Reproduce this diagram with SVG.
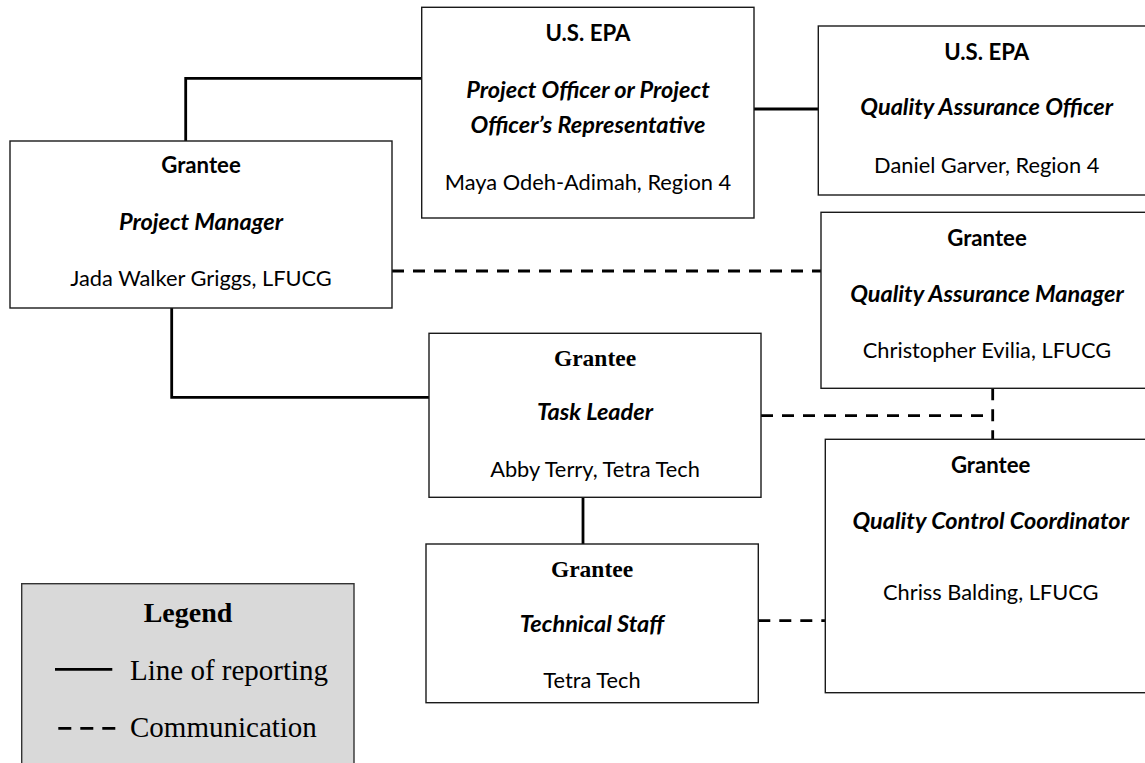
<svg xmlns="http://www.w3.org/2000/svg" width="1145" height="763" viewBox="0 0 1145 763">
<style>
.box{fill:#fff;stroke:#1a1a1a;stroke-width:1.4}
.t{font-family:Lato,"Open Sans","Liberation Sans",sans-serif;font-size:21.8px;fill:#000;text-anchor:middle}
.b{font-weight:bold;font-size:22.2px}
.bi{font-weight:bold;font-style:italic;font-size:23.5px}
.tb{font-family:"Liberation Serif","Times New Roman",serif;font-weight:bold;font-size:23.5px;fill:#000;text-anchor:middle}
.solid{fill:none;stroke:#000;stroke-width:2.8}
.dash{fill:none;stroke:#000;stroke-width:2.8;stroke-dasharray:12 9}
.lt{font-family:"Liberation Serif","Times New Roman",serif;font-size:29px;fill:#000}
</style>
<rect width="1145" height="763" fill="#fff"/>
<g id="connectors">
<polyline class="solid" points="185.7,141 185.7,78.3 421.7,78.3"/>
<line class="solid" x1="754" y1="109" x2="818.3" y2="109"/>
<line class="dash" x1="392" y1="271" x2="821" y2="271"/>
<polyline class="solid" points="171.7,308 171.7,397.3 429,397.3"/>
<line class="dash" x1="761" y1="415.7" x2="992.7" y2="415.7"/>
<line class="dash" x1="992.7" y1="388.3" x2="992.7" y2="439.3"/>
<line class="solid" x1="583" y1="497.3" x2="583" y2="544"/>
<line class="dash" x1="758.3" y1="620.7" x2="825.3" y2="620.7"/>
</g>
<g id="project-manager">
<rect class="box" x="10" y="141" width="382" height="167"/>
<text class="t b" x="201" y="173">Grantee</text>
<text class="t bi" x="201" y="230">Project Manager</text>
<text class="t" x="201" y="286">Jada Walker Griggs, LFUCG</text>
</g>
<g id="project-officer">
<rect class="box" x="421.7" y="7.3" width="332.3" height="210.7"/>
<text class="t b" x="588" y="40.7">U.S. EPA</text>
<text class="t bi" x="588" y="97.7">Project Officer or Project</text>
<text class="t bi" x="588" y="132.7">Officer’s Representative</text>
<text class="t" x="588" y="190">Maya Odeh-Adimah, Region 4</text>
</g>
<g id="qa-officer">
<rect class="box" x="818.3" y="26" width="340" height="169"/>
<text class="t b" x="986.7" y="60">U.S. EPA</text>
<text class="t bi" x="986.7" y="115">Quality Assurance Officer</text>
<text class="t" x="986.7" y="172.7">Daniel Garver, Region 4</text>
</g>
<g id="qa-manager">
<rect class="box" x="821" y="212.3" width="334" height="176"/>
<text class="t b" x="987" y="246">Grantee</text>
<text class="t bi" x="987" y="301.7">Quality Assurance Manager</text>
<text class="t" x="987" y="358">Christopher Evilia, LFUCG</text>
</g>
<g id="task-leader">
<rect class="box" x="429" y="333.3" width="332" height="164"/>
<text class="tb" x="595" y="365.7">Grantee</text>
<text class="t bi" x="595" y="420">Task Leader</text>
<text class="t" x="595" y="477">Abby Terry, Tetra Tech</text>
</g>
<g id="technical-staff">
<rect class="box" x="426" y="544" width="332.3" height="158.7"/>
<text class="tb" x="592" y="576.7">Grantee</text>
<text class="t bi" x="592" y="631.7">Technical Staff</text>
<text class="t" x="592" y="688.3">Tetra Tech</text>
</g>
<g id="qc-coordinator">
<rect class="box" x="825.3" y="439.3" width="332" height="253.4"/>
<text class="t b" x="990.7" y="472.7">Grantee</text>
<text class="t bi" x="990.7" y="529.3">Quality Control Coordinator</text>
<text class="t" x="990.7" y="600">Chriss Balding, LFUCG</text>
</g>
<g id="legend">
<rect x="21.7" y="583.7" width="332.3" height="200" fill="#d9d9d9" stroke="#333" stroke-width="1.4"/>
<text x="188" y="621.7" font-family="'Liberation Serif','Times New Roman',serif" font-weight="bold" font-size="28" text-anchor="middle">Legend</text>
<line class="solid" x1="55" y1="669.3" x2="112.3" y2="669.3"/>
<text class="lt" x="130" y="680">Line of reporting</text>
<line class="dash" x1="58.3" y1="728.3" x2="116.7" y2="728.3" style="stroke-dasharray:13 9"/>
<text class="lt" x="130" y="736.7">Communication</text>
</g>
</svg>
